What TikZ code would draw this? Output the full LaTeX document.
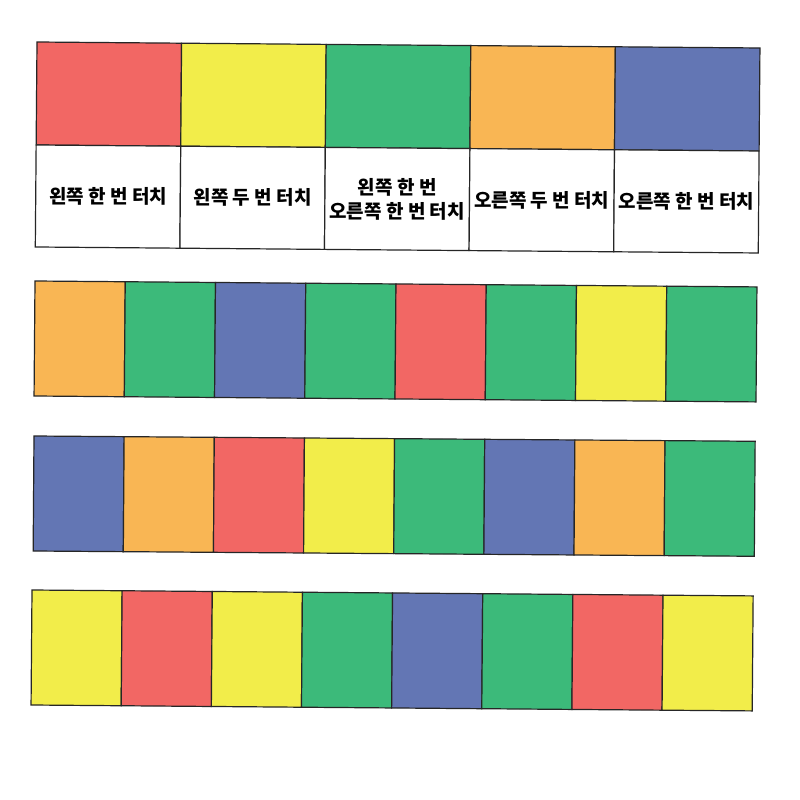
\documentclass[tikz,border=0pt]{standalone}
\usepackage{fontspec}
\newfontfamily\kr{Noto Sans CJK KR}
\definecolor{cred}{RGB}{242,103,100}
\definecolor{cyellow}{RGB}{242,237,74}
\definecolor{cgreen}{RGB}{60,186,122}
\definecolor{corange}{RGB}{249,182,84}
\definecolor{cblue}{RGB}{99,118,180}
\tikzset{
  cellbox/.style={draw=black!85, line width=1.2pt, inner sep=0pt, outer sep=0pt, transform shape},
  lbl/.style={font=\kr\bfseries\fontsize{19}{24}\selectfont, align=center, text=black, inner sep=0pt}
}
\begin{document}
\begin{tikzpicture}[x=1pt,y=-1pt]
\useasboundingbox[fill=white] (0,0) rectangle (800,800);
% strip 1
\begin{scope}[shift={(37,42)}, rotate=-0.475]
  \foreach \c [count=\i from 0] in {cred,cyellow,cgreen,corange,cblue} {
    \node[cellbox, fill=\c, minimum width=144.6pt, minimum height=103pt] (t\i) at ({\i*144.6+72.3}, 51.5) {};
  }
  \foreach \t [count=\i from 0] in {{왼쪽 한 번 터치},{왼쪽 두 번 터치},{왼쪽 한 번\\오른쪽 한 번 터치},{오른쪽 두 번 터치},{오른쪽 한 번 터치}} {
    \node[cellbox, fill=white, minimum width=144.6pt, minimum height=102pt] (b\i) at ({\i*144.6+72.3}, 154) {};
    \node[lbl] (l\i) at (b\i.center) {\t};
  }
\end{scope}
% strip 2
\begin{scope}[shift={(35,281)}, rotate=-0.47]
  \foreach \c [count=\i from 0] in {corange,cgreen,cblue,cgreen,cred,cgreen,cyellow,cgreen} {
    \node[cellbox, fill=\c, minimum width=90.25pt, minimum height=115pt] (r2c\i) at ({\i*90.25+45.125}, 57.5) {};
  }
\end{scope}
% strip 3
\begin{scope}[shift={(34,436)}, rotate=-0.42]
  \foreach \c [count=\i from 0] in {cblue,corange,cred,cyellow,cgreen,cblue,corange,cgreen} {
    \node[cellbox, fill=\c, minimum width=90.15pt, minimum height=115pt] (r3c\i) at ({\i*90.15+45.075}, 57.5) {};
  }
\end{scope}
% strip 4
\begin{scope}[shift={(32,590)}, rotate=-0.47]
  \foreach \c [count=\i from 0] in {cyellow,cred,cyellow,cgreen,cblue,cgreen,cred,cyellow} {
    \node[cellbox, fill=\c, minimum width=90.15pt, minimum height=115pt] (r4c\i) at ({\i*90.15+45.075}, 57.5) {};
  }
\end{scope}
\end{tikzpicture}
\end{document}
